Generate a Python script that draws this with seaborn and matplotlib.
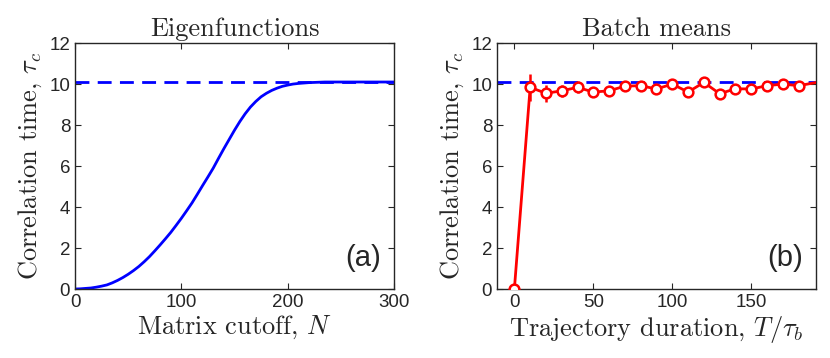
import numpy as np
import pandas as pd
import matplotlib
matplotlib.use('Agg')
import matplotlib.pyplot as plt
import seaborn as sns

# Panel (a): eigenfunction estimate vs matrix cutoff
cutoff_N = [0, 5, 10, 15, 20, 25, 30, 35, 40, 45, 50, 55, 60, 65, 70, 75, 80, 85, 90,
            95, 100, 105, 110, 115, 120, 125, 130, 135, 140, 145, 150, 155, 160, 165,
            170, 175, 180, 185, 190, 195, 200, 205, 210, 215, 220, 225, 230, 235,
            240, 250, 260, 270, 280, 290, 300]
tau_eig = [0.0, 0.01, 0.03, 0.05, 0.09, 0.14, 0.2, 0.3, 0.42, 0.56, 0.72, 0.9, 1.1,
           1.33, 1.58, 1.86, 2.15, 2.45, 2.76, 3.1, 3.45, 3.82, 4.2, 4.62, 5.05, 5.47,
           5.9, 6.38, 6.85, 7.3, 7.75, 8.17, 8.55, 8.88, 9.15, 9.38, 9.55, 9.69, 9.8,
           9.89, 9.95, 10.0, 10.03, 10.05, 10.07, 10.08, 10.09, 10.1,
           10.1, 10.1, 10.1, 10.1, 10.1, 10.1, 10.1]

# Panel (b): batch means vs trajectory duration
duration = [0, 10, 20, 30, 40, 50, 60, 70, 80, 90, 100, 110, 120, 130, 140, 150,
            160, 170, 180, 200]
tau_batch = [0.0, 9.84, 9.55, 9.67, 9.84, 9.61, 9.67, 9.9, 9.92, 9.76, 10.0, 9.61,
             10.08, 9.53, 9.77, 9.76, 9.92, 10.0, 9.92, 10.2]
tau_err = [0.0, 0.65, 0.42, 0.3, 0.3, 0.2, 0.2, 0.25, 0.2, 0.15, 0.12, 0.12, 0.12,
           0.1, 0.1, 0.1, 0.1, 0.1, 0.1, 0.1]

tau_exact = 10.1

sns.set_style('ticks')
plt.rcParams['font.family'] = ['Liberation Sans', 'DejaVu Sans']
plt.rcParams['mathtext.fontset'] = 'cm'
plt.rcParams['axes.edgecolor'] = '#262626'
plt.rcParams['xtick.color'] = '#262626'
plt.rcParams['ytick.color'] = '#262626'

serif = 'cmr10'
fig = plt.figure(figsize=(8.3, 3.58), dpi=100)
ax1 = fig.add_axes([0.0904, 0.1927, 0.3843, 0.687])
ax2 = fig.add_axes([0.5988, 0.1927, 0.3843, 0.687])

df_a = pd.DataFrame({'N': cutoff_N, 'tau': tau_eig})
sns.lineplot(data=df_a, x='N', y='tau', ax=ax1, color='#0000ff', lw=2)
ax1.axhline(tau_exact, color='#0000ff', lw=2, ls=(0, (5, 3)))
ax1.set_xlim(0, 300)
ax1.set_xticks([0, 100, 200, 300])
ax1.set_title('Eigenfunctions', family=serif, fontsize=19, pad=5)
ax1.set_xlabel('Matrix cutoff, $N$', family=serif, fontsize=19, labelpad=2)
ax1.text(0.96, 0.07, '(a)', transform=ax1.transAxes, ha='right', va='bottom', fontsize=21)

df_b = pd.DataFrame({'T': duration, 'tau': tau_batch, 'err': tau_err})
ax2.axhline(tau_exact, color='#0000ff', lw=2, ls=(0, (5, 3)), zorder=1)
ax2.errorbar(df_b['T'], df_b['tau'], yerr=df_b['err'], fmt='none', ecolor='red',
             elinewidth=1.8, capsize=0, zorder=2)
sns.lineplot(data=df_b, x='T', y='tau', ax=ax2, color='red', lw=2, marker='o',
             markersize=7, markerfacecolor='white', markeredgecolor='red',
             markeredgewidth=1.8, zorder=3)
ax2.set_xlim(-11, 191)
ax2.set_xticks([0, 50, 100, 150])
ax2.set_title('Batch means', family=serif, fontsize=19, pad=5)
ax2.set_xlabel(r'Trajectory duration, $T/\tau_b$', family=serif, fontsize=19, labelpad=2)
ax2.text(0.96, 0.07, '(b)', transform=ax2.transAxes, ha='right', va='bottom', fontsize=21)

for ax in (ax1, ax2):
    ax.set_ylim(0, 12)
    ax.set_yticks([0, 2, 4, 6, 8, 10, 12])
    ax.set_ylabel(r'Correlation time, $\tau_c$', family=serif, fontsize=19, labelpad=4)
    ax.tick_params(direction='in', top=True, right=True, labelsize=13.5, length=4, width=0.8)
    for s in ax.spines.values():
        s.set_linewidth(1.0)
        s.set_visible(True)

fig.savefig('out.png', dpi=100)
